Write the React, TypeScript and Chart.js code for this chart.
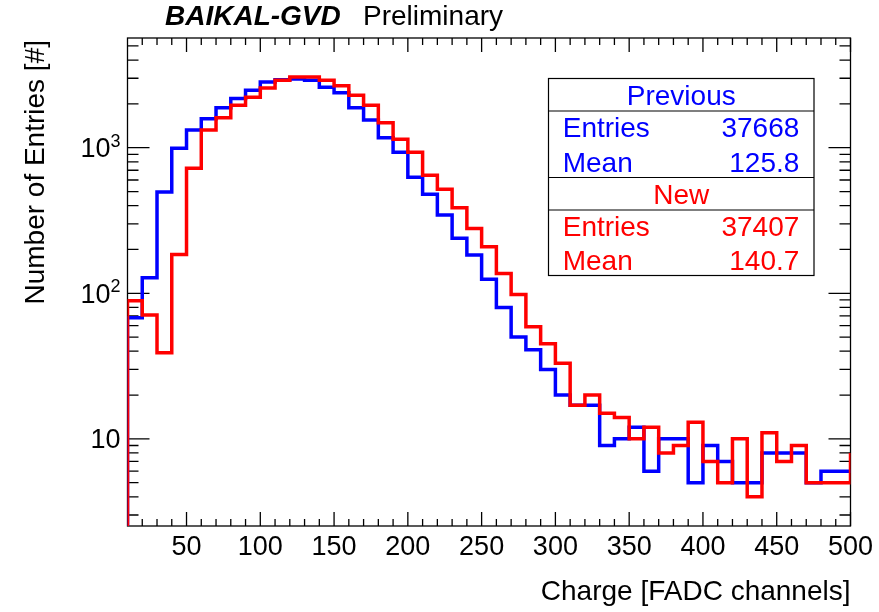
import { useEffect, useRef } from "react";
import { Chart, registerables } from "chart.js";

Chart.register(...registerables);

// Lower bin edges (FADC channels); final entry closes the last bin.
const binLowEdges = [
  0, 10, 20, 30, 40, 50, 60, 70, 80, 90,
  100, 110, 120, 130, 140, 150, 160, 170, 180, 190,
  200, 210, 220, 230, 240, 250, 260, 270, 280, 290,
  300, 310, 320, 330, 340, 350, 360, 370, 380, 390,
  400, 410, 420, 430, 440, 450, 460, 470, 480, 490,
  500, 510,
];

// "Previous" histogram counts per bin
const previousCounts = [
  1, 68, 128, 496, 990, 1323, 1582, 1884, 2174, 2478,
  2825, 2929, 2964, 2903, 2600, 2389, 1884, 1550, 1171, 930,
  626, 479, 345, 239, 183, 125, 80, 50, 41, 30,
  20, 17, 17, 9, 10, 12, 6, 10, 10, 5,
  9, 7, 5, 5, 8, 8, 8, 5, 6, 6,
  6, 6,
];

// "New" histogram counts per bin
const newCounts = [
  1, 89, 71, 39, 185, 722, 1323, 1607, 1954, 2218,
  2570, 2903, 3060, 3060, 2903, 2668, 2291, 1960, 1485, 1142,
  930, 646, 518, 387, 279, 209, 137, 98, 59, 45,
  33, 17, 20, 15, 14, 10, 12, 8, 9, 13,
  7, 5, 10, 4, 11, 7, 9, 5, 5, 5,
  8, 8,
];

const xMajorTicks = [50, 100, 150, 200, 250, 300, 350, 400, 450, 500];
const xTickLabels = ["50", "100", "150", "200", "250", "300", "350", "400", "450", "500"];
const xMinorTicks = [
  20, 30, 40, 60, 70, 80, 90, 110, 120, 130, 140, 160, 170, 180, 190,
  210, 220, 230, 240, 260, 270, 280, 290, 310, 320, 330, 340, 360, 370, 380, 390,
  410, 420, 430, 440, 460, 470, 480, 490,
];
const yMajorTicks = [10, 100, 1000];
const yTickBase = ["10", "10", "10"];
const yTickExp = ["", "2", "3"];
const yMinorTicks = [
  3, 4, 5, 6, 7, 8, 9,
  20, 30, 40, 50, 60, 70, 80, 90,
  200, 300, 400, 500, 600, 700, 800, 900,
  2000, 3000, 4000, 5000,
];

const statsPrevious = { title: "Previous", entries: "37668", mean: "125.8" };
const statsNew = { title: "New", entries: "37407", mean: "140.7" };

const FONT = "'Liberation Sans', Arial, Helvetica, sans-serif";
const BLUE = "#0000ff";
const RED = "#ff0000";

const framePlugin = {
  id: "rootFrame",
  beforeDatasetsDraw(chart: any) {
    const ctx = chart.ctx;
    const { left, right, top, bottom } = chart.chartArea;
    const xs = chart.scales.x;
    const ys = chart.scales.y;
    ctx.save();
    ctx.strokeStyle = "#000";
    ctx.lineWidth = 1.3;
    ctx.strokeRect(left, top, right - left, bottom - top);
    ctx.beginPath();
    const tick = (x1: number, y1: number, x2: number, y2: number) => {
      ctx.moveTo(x1, y1);
      ctx.lineTo(x2, y2);
    };
    xMajorTicks.forEach((v) => {
      const x = xs.getPixelForValue(v);
      tick(x, bottom, x, bottom - 14);
      tick(x, top, x, top + 14);
    });
    xMinorTicks.forEach((v) => {
      const x = xs.getPixelForValue(v);
      tick(x, bottom, x, bottom - 7);
      tick(x, top, x, top + 7);
    });
    yMajorTicks.forEach((v) => {
      const y = ys.getPixelForValue(v);
      tick(left, y, left + 22, y);
      tick(right, y, right - 22, y);
    });
    yMinorTicks.forEach((v) => {
      const y = ys.getPixelForValue(v);
      if (y < top || y > bottom) return;
      tick(left, y, left + 11, y);
      tick(right, y, right - 11, y);
    });
    ctx.stroke();
    ctx.restore();
  },
  afterDraw(chart: any) {
    const ctx = chart.ctx;
    const { left, right, top, bottom } = chart.chartArea;
    const xs = chart.scales.x;
    const ys = chart.scales.y;
    ctx.save();
    ctx.fillStyle = "#000";

    // x tick labels
    ctx.font = `27px ${FONT}`;
    ctx.textAlign = "center";
    ctx.textBaseline = "alphabetic";
    xMajorTicks.forEach((v, i) => {
      ctx.fillText(xTickLabels[i], xs.getPixelForValue(v), bottom + 28.5);
    });

    // y tick labels
    const labelRight = left - 7;
    yMajorTicks.forEach((v, i) => {
      const y = ys.getPixelForValue(v);
      ctx.textAlign = "right";
      let xr = labelRight;
      if (yTickExp[i]) {
        ctx.font = `18px ${FONT}`;
        ctx.fillText(yTickExp[i], xr, y - 1);
        xr -= ctx.measureText(yTickExp[i]).width;
      }
      ctx.font = `27px ${FONT}`;
      ctx.fillText(yTickBase[i], xr, y + 9.6);
    });

    // axis titles
    ctx.font = `28px ${FONT}`;
    ctx.textAlign = "right";
    ctx.fillText("Charge [FADC channels]", right, 600);
    ctx.save();
    ctx.translate(43.5, top + 2);
    ctx.rotate(-Math.PI / 2);
    ctx.textAlign = "right";
    ctx.fillText("Number of Entries [#]", 0, 0);
    ctx.restore();

    // title
    ctx.textAlign = "left";
    ctx.font = `italic bold 28px ${FONT}`;
    ctx.fillText("BAIKAL-GVD", 165, 25);
    ctx.font = `28px ${FONT}`;
    ctx.fillText("Preliminary", 363, 25);

    // stats box
    const bx1 = 548.5, bx2 = 814, by1 = 78.5, by2 = 275.5;
    ctx.fillStyle = "#fff";
    ctx.fillRect(bx1, by1, bx2 - bx1, by2 - by1);
    ctx.strokeStyle = "#000";
    ctx.lineWidth = 1.2;
    ctx.strokeRect(bx1, by1, bx2 - bx1, by2 - by1);
    ctx.beginPath();
    [111, 177.5, 210].forEach((y) => {
      ctx.moveTo(bx1, y);
      ctx.lineTo(bx2, y);
    });
    ctx.stroke();
    const cx = (bx1 + bx2) / 2;
    const lx = 562.7;
    const rx = 799.3;
    ctx.font = `28px ${FONT}`;
    const drawBlock = (s: any, color: string, yTitle: number, yE: number, yM: number) => {
      ctx.fillStyle = color;
      ctx.textAlign = "center";
      ctx.fillText(s.title, cx, yTitle);
      ctx.textAlign = "left";
      ctx.fillText("Entries", lx, yE);
      ctx.fillText("Mean", lx, yM);
      ctx.textAlign = "right";
      ctx.fillText(s.entries, rx, yE);
      ctx.fillText(s.mean, rx, yM);
    };
    drawBlock(statsPrevious, BLUE, 105, 137, 171.5);
    drawBlock(statsNew, RED, 203.5, 236, 269.5);
    ctx.restore();
  },
};

export default function App() {
  const canvasRef = useRef<HTMLCanvasElement | null>(null);

  useEffect(() => {
    document.body.style.margin = "0";
    const canvas = canvasRef.current;
    if (!canvas) return;
    const toPoints = (vals: number[]) => binLowEdges.map((x, i) => ({ x, y: vals[i] }));
    const chart = new Chart(canvas, {
      type: "line",
      data: {
        datasets: [
          {
            label: "New",
            data: toPoints(newCounts),
            borderColor: RED,
            borderWidth: 3.5,
            stepped: "before",
            pointRadius: 0,
            fill: false,
            borderJoinStyle: "miter",
            borderCapStyle: "butt",
          },
          {
            label: "Previous",
            data: toPoints(previousCounts),
            borderColor: BLUE,
            borderWidth: 3.5,
            stepped: "before",
            pointRadius: 0,
            fill: false,
            borderJoinStyle: "miter",
            borderCapStyle: "butt",
          },
        ],
      },
      options: {
        animation: false,
        responsive: false,
        devicePixelRatio: 1,
        layout: { padding: { left: 127.5, right: 28.5, top: 38, bottom: 86 } },
        plugins: { legend: { display: false }, tooltip: { enabled: false }, title: { display: false } },
        events: [],
        scales: {
          x: { type: "linear", min: 10, max: 500, bounds: "data", display: false },
          y: { type: "logarithmic", min: 2.52, max: 5670, bounds: "data", display: false },
        },
      },
      plugins: [framePlugin],
    } as any);
    return () => chart.destroy();
  }, []);

  return (
    <canvas
      ref={canvasRef}
      width={879}
      height={612}
      style={{ display: "block", width: 879, height: 612 }}
    />
  );
}
